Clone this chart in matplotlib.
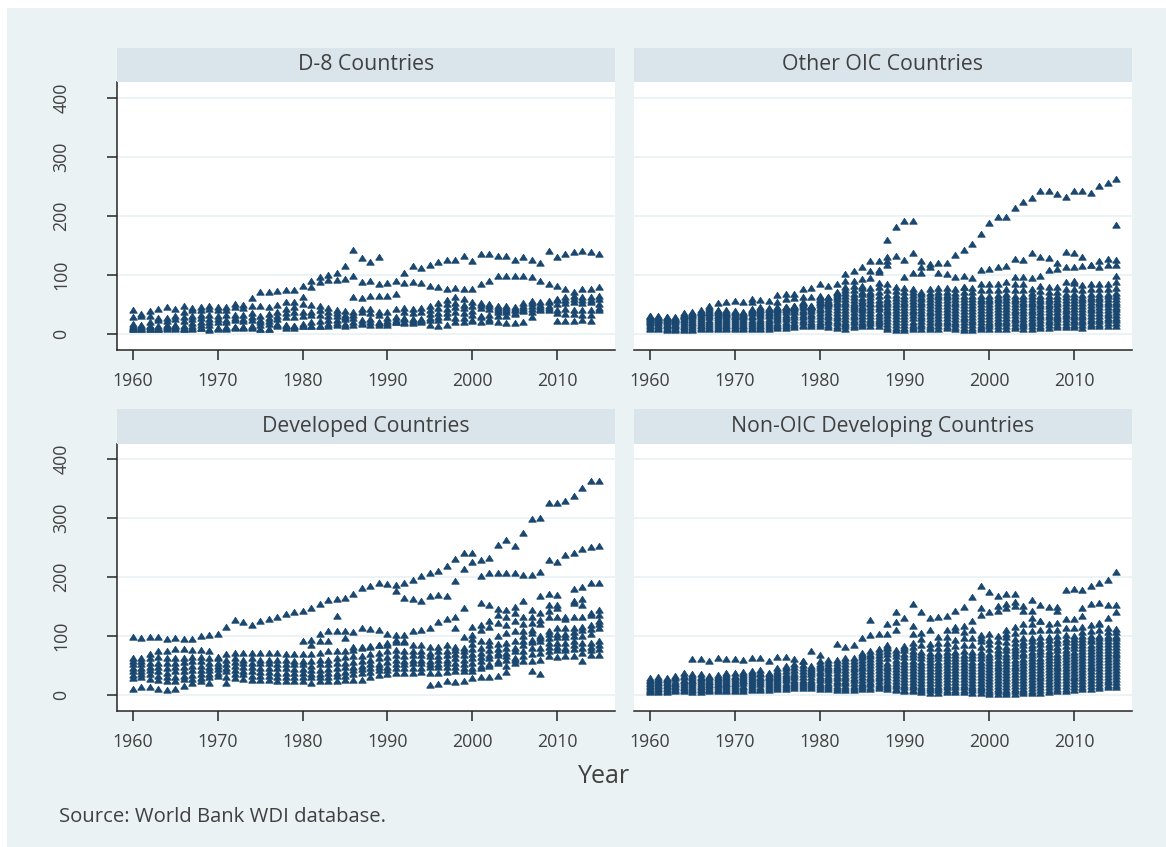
import numpy as np
import matplotlib
matplotlib.use("Agg")
import matplotlib.pyplot as plt
from matplotlib.patches import Rectangle

na = np.nan
years = list(range(1960, 2016))
y_ticks = [0, 100, 200, 300, 400]
x_ticks = [1960, 1970, 1980, 1990, 2000, 2010]

# D-8 Countries
d8_a = [41,34,39,42,45,43,48,44,45,47, 46,46,51,49,61,72,72,73,74,75, 82,90,97,100,103,116,142,128,122,131, na,na,103,115,112,117,122,126,126,133, 124,136,135,133,133,126,130,126,120,140, 131,136,139,141,139,136]
d8_b = [28,31,31,27,27,31,38,41,41,43, 41,41,45,44,47,47,45,49,55,55, 62,79,88,92,92,93,98,88,89,85, 87,89,86,88,86,81,80,76,78,77, 77,84,89,98,98,98,98,97,89,84, 81,76,71,76,77,79]
d8_c = [17,16,20,24,22,25,29,31,32,33, 31,32,32,33,36,30,34,37,42,46, 50,49,48,44,40,39,62,61,65,64, 65,67,44,42,44,47,52,57,62,60, 55,53,50,48,47,46,52,56,54,56, 59,62,64,62,63,65]
d8_d = [14,12,14,14,15,16,22,25,27,26, 26,24,27,26,28,24,27,30,36,38, 38,38,40,38,36,33,38,42,42,38, 38,42,38,36,38,41,44,50,52,49, 47,49,47,44,44,43,47,52,49,54, 58,58,60,58,58,60]
d8_e = [10,10,12,11,12,13,13,19,21,20, 20,20,24,22,23,20,22,25,29,28, 30,32,33,31,30,29,32,38,35,33, 27,28,27,25,25,34,36,42,46,44, 39,44,43,40,40,40,44,47,45,48, 50,53,55,53,54,50]
d8_f = [9,8,9,9,10,10,9,14,16,16, 11,12,12,12,14,15,17,17,16,14, 17,20,22,23,24,25,27,24,26,20, 22,24,26,23,24,27,29,35,38,36, 32,30,33,38,37,36,40,43,42,41, 40,43,40,41,40,40]
d8_g = [12,13,13,11,13,13,11,10,10,7, 9,11,12,12,11,8,9,15,13,14, 13,13,14,17,18,17,20,19,21,18, 18,20,19,20,22,23,23,28,27,27, 22,21,26,30,30,34,39,38,41,44, 36,34,34,32,32,44]
d8_h = [8,8,8,8,9,9,9,9,10,9, 10,9,10,11,12,9,8,13,11,11, 13,13,13,14,15,14,15,17,16,15, 16,20,21,19,21,16,14,15,20,21, 24,28,22,21,19,19,20,28,na,na, 22,22,22,23,22,na]

# Other OIC Countries
oic_a = [9,9,7,7,7,7,8,9,9,8, 8,9,9,8,9,10,11,12,13,13, 13,12,10,9,12,13,14,14,8,7, 7,8,9,9,9,10,8,7,7,8, 9,9,9,10,9,9,10,11,12,12, 12,11,13,13,14,14]
oic_ab = [11,11,9,9,9,9,10,11,11,10, 10,11,11,10,12,13,14,15,16,17, 17,16,14,13,16,17,18,18,12,11, 11,12,13,12,13,14,12,11,11,12, 13,13,13,14,13,13,14,15,16,16, 16,15,17,17,18,18]
oic_b = [13,14,11,11,12,12,13,14,14,13, 13,14,14,13,15,16,17,19,20,21, 21,20,18,17,20,21,22,22,17,15, 16,16,17,16,18,18,17,15,16,16, 17,18,18,19,17,18,19,20,21,21, 20,20,22,22,23,23]
oic_bc = [15,16,13,13,14,15,16,17,17,16, 16,16,17,16,18,19,21,23,24,25, 25,24,22,21,24,26,26,26,22,20, 21,21,22,20,22,22,21,20,20,20, 21,22,22,23,21,22,23,24,25,25, 24,24,26,26,27,27]
oic_c = [18,19,15,15,17,18,19,20,21,19, 19,19,20,19,22,23,25,28,28,30, 30,28,27,26,29,31,30,31,27,26, 26,27,27,25,27,27,26,25,24,25, 26,27,27,27,26,27,28,29,29,30, 29,29,31,31,32,32]
oic_cd = [20,21,17,17,20,21,22,24,24,22, 22,22,24,22,26,27,29,32,32,34, 35,33,31,31,33,35,35,36,32,31, 30,32,31,30,32,32,31,29,29,30, 31,32,32,32,31,32,33,33,33,34, 33,33,35,35,36,37]
oic_d = [22,23,20,20,23,24,26,28,27,26, 26,25,28,26,30,31,33,37,37,39, 40,38,36,36,38,40,40,42,37,36, 35,37,36,35,37,37,36,34,34,35, 36,37,37,37,36,37,38,38,38,39, 38,38,40,40,41,42]
oic_de = [24,24,22,22,25,27,29,32,30,29, 28,28,31,30,33,34,37,39,41,42, 44,42,40,41,42,44,45,46,41,41, 40,41,40,39,42,42,40,39,39,40, 41,42,42,41,40,41,42,42,42,43, 42,42,44,45,45,46]
oic_e = [26,26,24,24,28,30,33,36,33,32, 31,31,35,34,36,38,41,42,46,45, 49,47,45,46,46,48,50,50,46,46, 45,46,45,44,47,47,45,44,44,45, 46,47,47,46,45,46,47,47,46,48, 47,47,49,50,50,51]
oic_ef = [27,27,25,25,30,32,35,38,35,34, 33,32,37,37,38,40,43,44,49,46, 52,50,50,50,49,52,53,53,50,51, 50,51,50,49,52,52,50,49,49,50, 51,52,52,51,50,50,51,51,50,52, 52,52,54,54,55,55]
oic_f = [29,29,27,26,32,34,37,41,37,36, 35,34,39,40,41,43,45,46,52,47, 55,53,55,55,53,56,57,57,55,56, 55,56,55,54,57,57,55,54,55,56, 56,57,57,56,55,55,56,56,55,57, 57,57,59,59,60,60]
oic_fg = [30,29,28,27,33,35,38,44,39,38, 37,35,40,42,42,44,45,47,53,47, 57,54,59,60,57,61,62,64,60,61, 60,61,59,59,62,62,60,59,60,60, 60,61,62,60,59,60,60,60,59,62, 62,61,63,63,64,64]
oic_g = [31,30,29,28,35,37,40,47,41,40, 39,37,42,45,44,46,46,48,54,48, 59,55,63,64,62,67,67,72,66,66, 65,66,63,65,66,66,64,64,64,65, 65,66,67,65,64,65,65,64,64,67, 67,66,68,68,68,69]
oic_gh = [na]*20 + [62,58,66,69,68,72,72,79,75,73, 71,71,67,70,72,72,70,72,71,75, 75,75,77,74,74,70,73,72,72,77, 76,74,76,76,76,78]
oic_h = [na]*20 + [65,62,70,74,75,78,78,86,84,80, 78,76,72,76,78,78,76,80,78,84, 84,85,88,84,85,76,81,80,80,88, 86,83,85,85,85,88]
oic_i = [na]*8 + [52,55,56,55,59,58,56,66,67,68,76,78, 84,81,85,102,106,113,123,124,131,133, 125,137,124,119,121,120,96,99,95,108, 111,114,116,127,125,138,130,128,121,139, 137,130,117,124,127,126]
oic_j = [na]*12 + [54,na,na,55,59,61,63,62, na,62,71,90,90,93,106,109,124,na, 96,103,113,113,103,101] + [na]*10 + [99,108,111,114,113,116,117,113,117,117]
oic_k = [na]*23 + [79,82,82,95,105,117,na, na,na,103,na,na,na,na,80,na,na, na,na,na,96,97,95,na,na,na,na, 90,na,na,na,na,99]
oic_l = [na]*28 + [159,182,192,191] + [na]*4 + [134,142,152,170, 188,198,198,213,224,230,243,243,237,233, 242,242,239,250,256,262]
oic_m = [na]*55 + [184]

# Developed Countries
dev_top = [99,96,99,99,95,96,95,95,100,101, 104,116,127,124,119,126,129,133,138,141, 142,148,154,161,163,165,172,182,184,189, 188,187,189,195,202,207,211,219,231,241, 241,228,233,255,262,253,275,298,300,326, 326,329,337,351,363,363]
dev_second = [na]*31 + [176,164,163,160,167,170,167,194,214, 225,201,206,207,207,207,204,203,209,228, 226,238,241,248,251,253]
dev_third = [na]*20 + [91,85,103,109,134,109,106,114,112,111, 103,101,102,108,110,113,124,129,133,147, na,156,153,146,144,150,160,144,167,171, 170,na,180,183,189,190]
dev_fourth = [na]*21 + [93,91,92,109,96,82,82,83,84, 85,94,92,na,na,na,na,na,113,98, 95,na,na,na,na,na,na,na,na,153, 153,na,160,162,na,na]
dev_low = [11,14,14,10,8,11,16,20,24,21, na,na,na,na,na,na,na,na,na,na, na,na,na,na,na,na,na,na,na,na, na,na,na,na,na,17,19,23,22,24, 28,30,31,32,39,na,na,41,36,na, na,na,na,na,na,na]
dev_a = [28,30,27,26,24,24,27,27,28,30, 32,20,28,27,26,25,25,24,24,24, 23,21,23,23,24,25,26,26,30,34, 35,37,37,38,39,38,38,39,40,40, 40,45,50,55,50,55,58,58,60,66, 65,66,66,58,68,68]
dev_b = [34,36,35,32,31,31,33,34,35,36, 38,30,35,35,33,32,32,31,31,31, 30,30,30,31,32,33,35,38,39,42, 42,45,45,46,46,47,47,47,48,45, 46,50,52,58,60,60,66,70,72,75, 76,76,78,72,76,78]
dev_c = [40,41,42,40,38,40,40,42,42,42, 44,40,42,41,40,39,39,38,38,37, 37,35,36,37,38,39,42,44,46,47, 48,52,52,54,54,52,53,54,54,52, 54,58,62,68,66,62,74,80,80,82, 82,80,85,80,82,84]
dev_d = [46,46,48,47,46,47,48,50,50,47, 50,46,50,48,48,46,46,45,45,44, 44,42,43,44,46,47,48,50,52,53, 56,60,58,60,60,58,59,60,62,60, 62,65,68,72,72,74,85,90,92,88, 88,88,92,88,88,92]
dev_e = [52,52,55,55,54,55,56,58,58,54, 55,52,56,55,55,54,54,52,52,52, 52,50,52,52,54,55,56,58,60,62, 64,68,66,67,68,66,66,68,70,68, 70,72,76,78,80,80,92,94,96,96, 98,98,100,100,104,114]
dev_f = [58,58,62,65,62,62,62,65,64,62, 62,60,62,60,62,60,60,60,60,58, 58,58,60,60,62,64,66,66,70,72, 74,76,74,74,74,72,74,74,76,74, 78,80,84,86,88,92,100,105,100,103, 103,103,106,110,112,125]
dev_g = [62,62,70,75,74,78,78,76,76,75, 65,70,72,72,72,72,72,71,70,70, 70,70,72,74,74,74,76,80,82,84, 88,90,90,84,84,82,82,84,82,80, 86,92,92,100,105,108,108,110,120,108, 114,114,114,116,118,120]
dev_h = [na]*40 + [116,119,125,136,133,139,133,133,139,142, 133,133,133,133,139,144]
dev_i = [na]*40 + [102,110,116,122,119,125,121,122,127,133, 147,129,156,153,136,136]

# Non-OIC Developing Countries
non_a = [5,5,5,6,6,5,5,6,6,7, 7,7,8,8,9,10,11,12,12,12, 10,10,9,9,9,10,11,12,10,8, 6,6,5,4,4,5,5,5,4,4, 1,2,1,2,3,3,4,5,6,7, 9,10,11,12,13,13]
non_ab = [7,7,7,8,9,8,8,8,8,9, 9,10,11,11,12,13,14,15,15,15, 13,13,12,12,12,13,14,15,13,11, 9,9,8,8,8,9,9,9,8,8, 5,6,5,6,7,7,8,9,10,11, 13,14,15,16,17,17]
non_b = [9,10,10,11,12,11,11,11,11,12, 12,13,14,14,15,17,17,18,18,18, 17,17,16,16,16,17,18,19,17,15, 13,13,12,12,12,13,13,13,12,12, 9,10,9,10,11,12,13,14,15,16, 18,19,20,21,22,22]
non_bc = [11,12,12,13,14,14,13,14,14,15, 15,16,17,18,18,20,21,22,22,22, 21,21,20,20,20,21,22,23,21,19, 17,17,16,16,16,17,17,17,16,16, 14,15,14,15,16,17,18,19,20,21, 23,24,25,26,26,27]
non_c = [14,15,15,16,17,17,16,17,17,18, 19,20,21,22,22,24,25,26,26,26, 25,25,24,24,25,26,27,28,26,24, 22,22,21,21,21,22,22,22,21,21, 19,20,19,20,21,22,23,24,25,26, 28,29,30,31,31,32]
non_cd = [16,17,17,18,20,20,19,19,19,21, 21,23,24,25,25,27,29,30,30,30, 29,29,28,28,29,30,31,32,30,29, 27,27,26,26,26,27,27,27,26,26, 24,25,24,25,26,27,28,29,30,31, 33,34,35,36,36,37]
non_d = [19,20,20,21,23,23,22,22,22,24, 24,26,27,28,28,31,33,34,35,35, 33,33,33,33,34,35,36,37,35,34, 32,32,31,31,31,32,32,32,31,31, 29,30,29,30,31,32,33,34,35,36, 38,39,40,41,41,42]
non_de = [21,22,22,24,26,26,25,24,25,27, 27,29,30,31,30,34,36,38,40,39, 37,37,37,38,39,40,41,42,40,39, 37,37,36,36,36,37,37,37,36,36, 34,35,34,35,36,37,38,39,40,41, 43,44,45,46,46,47]
non_e = [24,25,25,28,30,29,28,27,28,31, 30,33,34,35,33,37,40,43,45,43, 41,42,42,43,44,45,46,47,45,44, 42,42,41,41,41,42,42,42,41,41, 39,40,39,40,41,42,43,44,45,46, 48,49,50,51,51,52]
non_ef = [26,27,27,30,33,32,31,30,31,34, 33,36,37,38,35,41,45,48,51,46, 45,46,46,47,48,50,51,52,50,49, 47,47,46,46,46,47,47,47,46,46, 44,45,44,45,46,47,48,49,50,51, 53,54,55,56,56,57]
non_f = [28,30,29,33,37,35,35,33,34,38, 37,39,41,42,38,45,50,53,58,50, 49,50,50,52,53,55,56,57,55,54, 52,52,51,51,51,52,52,52,51,51, 49,50,49,50,51,52,53,54,55,56, 58,59,60,61,61,62]
non_fg = [na]*20 + [53,54,55,57,58,60,61,62,62,60, 58,58,56,56,56,57,57,57,56,56, 54,55,54,55,56,57,58,59,60,61, 63,64,65,66,66,67]
non_g = [na]*20 + [58,59,60,62,63,65,66,68,69,66, 65,65,62,61,62,62,62,63,62,62, 59,60,59,60,61,62,63,64,65,66, 68,69,70,71,71,72]
non_gh = [na]*25 + [68,70,73,74,72,70,70,68,66,67, 67,67,68,68,68,65,66,65,66,67, 68,69,70,70,71,73,74,75,76,76,77]
non_h = [na]*25 + [71,74,78,79,77,76,75,73,72,72, 73,73,74,73,73,70,71,70,71,72, 73,74,75,76,77,79,79,80,81,81,82]
non_hi = [na]*28 + [81,na,79,81,84,79,80,80,83,85,85,82, 78,77,76,76,78,79,80,81,82,83, 84,84,85,86,86,87]
non_i = [na]*28 + [84,na,83,88,95,87,88,88,93,97,97,92, 86,83,81,82,84,85,86,87,88,89, 90,90,91,92,92,92]
non_ij = [na]*39 + [96,94,91,90,88,90,91,92,93,94,95, 95,95,95,96,96,96]
non_j = [na]*39 + [101,103,100,98,95,97,97,98,99,100,101, 100,100,100,100,100,100]
non_jk = [na]*42 + [104,105,108,108,111,110,111,114, 114,107,109,111,107,106]
non_k = [na]*42 + [110,115,120,120,125,120,122,128, 128,115,118,122,114,112]
non_l = [na]*29 + [111,na,103,na,na,na,99,110,107,110,135, na,143,147,151,143,131,na,na,143,na, na,134,na,120,131,140]
non_m = [na]*26 + [101,103,103,123,na,117,105,111,99,110,115,117,126,147, 140,151,154,157,151,143,126,150,150,na, na,148,154,156,152,152]
non_top = [na]*5 + [61,61,58,62,61, 61,60,62,62,58,65,64,61,58,75, 68,na,87,81,84,96,127,na,120,140, 131,154,141,130,132,134,142,149,166,185, 175,168,171,171,na,161,152,na,na,178, 180,178,185,190,195,209]

NAVY = "#1A476F"
BG = "#EAF2F3"
STRIP = "#D9E5EB"
AXIS = "#262626"
TEXT = "#404040"
W, H = 1166, 847

plt.rcParams["font.family"] = ["Open Sans", "DejaVu Sans"]
fig = plt.figure(figsize=(W / 100, H / 100), dpi=100, facecolor="white")
fig.patches.append(Rectangle((7 / W, 0), 1 - 7 / W, 1 - 8 / H, transform=fig.transFigure, facecolor=BG, edgecolor="none", zorder=-5))

triangle = [(-1, -0.72), (1, -0.72), (0, 0.85), (-1, -0.72)]


def draw_panel(box, zero_px, title, series, left):
    x0, x1, y0, y1 = box
    ax = fig.add_axes([x0 / W, 1 - y1 / H, (x1 - x0) / W, (y1 - y0) / H])
    ax.set_xlim(1960 - (133 - 117) / 8.48, 1960 + (615 - 133) / 8.48)
    ax.set_ylim((zero_px - y1) / 0.59, (zero_px - y0) / 0.59)
    for v in y_ticks:
        ax.axhline(v, color=BG, lw=1.3, zorder=1)
    for s in series:
        ax.plot(years, s, ls="none", marker=triangle, ms=5.4, mfc=NAVY, mec=NAVY, mew=0.6, zorder=3, clip_on=False)
    for side in ["top", "right"]:
        ax.spines[side].set_visible(False)
    ax.spines["bottom"].set_color(AXIS)
    ax.spines["left"].set_color(AXIS)
    ax.spines["bottom"].set_linewidth(1.1)
    ax.spines["left"].set_linewidth(1.1)
    ax.set_xticks(x_ticks)
    ax.tick_params(axis="x", length=7.5, width=1.1, color=AXIS, labelcolor=TEXT, labelsize=12.8, pad=8)
    if left:
        ax.set_yticks(y_ticks)
        ax.tick_params(axis="y", length=7.5, width=1.1, color=AXIS, labelcolor=TEXT, labelsize=12.8, pad=26)
        for lab in ax.get_yticklabels():
            lab.set_rotation(90)
            lab.set_va("center")
    else:
        ax.spines["left"].set_visible(False)
        ax.set_yticks([])
    # title strip above the plot region
    fig.patches.append(Rectangle((x0 / W, 1 - y0 / H), (x1 - x0) / W, 34.5 / H, transform=fig.transFigure, facecolor=STRIP, edgecolor="none"))
    fig.text((x0 + x1) / 2 / W, 1 - (y0 - 17.5) / H, title, ha="center", va="center", fontsize=15.3, color=TEXT)
    return ax


draw_panel((117, 615, 82.5, 350), 334, "D-8 Countries", [d8_a, d8_b, d8_c, d8_d, d8_e, d8_f, d8_g, d8_h], True)
draw_panel((634, 1132, 82.5, 350), 334, "Other OIC Countries", [oic_a, oic_ab, oic_b, oic_bc, oic_c, oic_cd, oic_d, oic_de, oic_e, oic_ef, oic_f, oic_fg, oic_g, oic_gh, oic_h, oic_i, oic_j, oic_k, oic_l, oic_m], False)
draw_panel((117, 615, 444, 711), 695, "Developed Countries", [dev_top, dev_second, dev_third, dev_fourth, dev_low, dev_a, dev_b, dev_c, dev_d, dev_e, dev_f, dev_g, dev_h, dev_i], True)
draw_panel((634, 1132, 444, 711), 695, "Non-OIC Developing Countries", [non_a, non_ab, non_b, non_bc, non_c, non_cd, non_d, non_de, non_e, non_ef, non_f, non_fg, non_g, non_gh, non_h, non_hi, non_i, non_ij, non_j, non_jk, non_k, non_l, non_m, non_top], False)

fig.text(604 / W, 1 - 776 / H, "Year", ha="center", va="center", fontsize=18, color=TEXT)
fig.text(59 / W, 1 - 817 / H, "Source: World Bank WDI database.", ha="left", va="center", fontsize=14.6, color=TEXT)

fig.savefig("out.png", dpi=100, facecolor="white")
